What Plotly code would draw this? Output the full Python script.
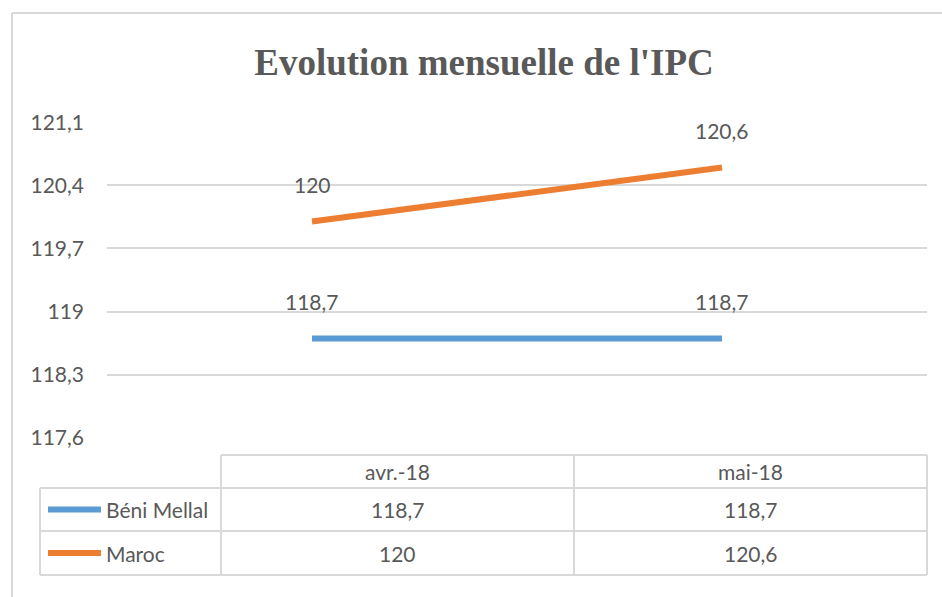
import plotly.graph_objects as go

# ---- data ----
categories = ["avr.-18", "mai-18"]
series_names = ["Béni Mellal", "Maroc"]
beni_mellal = [118.7, 118.7]
maroc = [120.0, 120.6]
series_values = [beni_mellal, maroc]
series_colors = ["#5B9BD5", "#ED7D31"]
y_ticks = [117.6, 118.3, 119.0, 119.7, 120.4, 121.1]
y_tick_labels = ["117,6", "118,3", "119", "119,7", "120,4", "121,1"]
title_text = "Evolution mensuelle de l'IPC"


def fr(v):
    s = ("%.1f" % v).rstrip("0").rstrip(".")
    return s.replace(".", ",")


W, H = 942, 597
L, R, T, B = 107, 15, 122, 159
PW = W - L - R
PH = H - T - B
TXT = "#595959"
GRID = "#D9D9D9"
FONT = "Lato, Carlito, Calibri, sans-serif"


def px_x(p):
    return (p - L) / PW


def px_y(p):
    return (H - B - p) / PH


fig = go.Figure()
for name, vals, col in zip(series_names, series_values, series_colors):
    fig.add_trace(go.Scatter(
        x=categories, y=vals, mode="lines", name=name,
        line=dict(color=col, width=6), showlegend=False,
    ))

annotations = []
# data labels
for vals in series_values:
    for c, v in zip(categories, vals):
        annotations.append(dict(
            x=c, y=v, xref="x", yref="y", text=fr(v), showarrow=False,
            xanchor="center", yanchor="middle",
            yshift=37, font=dict(family=FONT, size=21, color=TXT),
        ))

shapes = []
# outer chart border (top + left)
shapes.append(dict(type="line", xref="paper", yref="paper",
                   x0=px_x(12), x1=px_x(942), y0=px_y(13), y1=px_y(13),
                   line=dict(color="#D9D9D9", width=2)))
shapes.append(dict(type="line", xref="paper", yref="paper",
                   x0=px_x(12), x1=px_x(12), y0=px_y(13), y1=px_y(597),
                   line=dict(color="#D9D9D9", width=2)))

# data table
col_x = [40, 221, 574, 927]
row_y = [455, 488, 531, 575]
tline = dict(color="#D9D9D9", width=2)
# horizontal lines
shapes.append(dict(type="line", xref="paper", yref="paper",
                   x0=px_x(col_x[1]), x1=px_x(col_x[3]), y0=px_y(row_y[0]), y1=px_y(row_y[0]), line=tline))
for ry in row_y[1:]:
    shapes.append(dict(type="line", xref="paper", yref="paper",
                       x0=px_x(col_x[0]), x1=px_x(col_x[3]), y0=px_y(ry), y1=px_y(ry), line=tline))
# vertical lines
shapes.append(dict(type="line", xref="paper", yref="paper",
                   x0=px_x(col_x[0]), x1=px_x(col_x[0]), y0=px_y(row_y[1]), y1=px_y(row_y[3]), line=tline))
for cx in col_x[1:]:
    shapes.append(dict(type="line", xref="paper", yref="paper",
                       x0=px_x(cx), x1=px_x(cx), y0=px_y(row_y[0]), y1=px_y(row_y[3]), line=tline))

tfont = dict(family=FONT, size=21, color=TXT)
# header
for i, c in enumerate(categories):
    cxm = (col_x[i + 1] + col_x[i + 2]) / 2
    annotations.append(dict(x=px_x(cxm), y=px_y((row_y[0] + row_y[1]) / 2),
                            xref="paper", yref="paper", text=c, showarrow=False,
                            xanchor="center", yanchor="middle", font=tfont))
# rows
for r, (name, vals, col) in enumerate(zip(series_names, series_values, series_colors)):
    cy = (row_y[r + 1] + row_y[r + 2]) / 2
    shapes.append(dict(type="line", xref="paper", yref="paper",
                       x0=px_x(48), x1=px_x(101), y0=px_y(cy), y1=px_y(cy),
                       line=dict(color=col, width=6)))
    annotations.append(dict(x=px_x(104), y=px_y(cy), xref="paper", yref="paper",
                            text=name, showarrow=False, xanchor="left",
                            yanchor="middle", font=tfont))
    for i, v in enumerate(vals):
        cxm = (col_x[i + 1] + col_x[i + 2]) / 2
        annotations.append(dict(x=px_x(cxm), y=px_y(cy), xref="paper", yref="paper",
                                text=fr(v), showarrow=False, xanchor="center",
                                yanchor="middle", font=tfont))

fig.update_layout(
    width=W, height=H,
    margin=dict(l=L, r=R, t=T, b=B),
    paper_bgcolor="white", plot_bgcolor="white",
    title=dict(text=title_text, x=484 / W, xanchor="center", y=1 - 62 / H,
               yanchor="middle", xref="container", yref="container",
               font=dict(family="Liberation Serif, Times New Roman, serif",
                         size=37, color=TXT, weight="bold")),
    xaxis=dict(type="category", range=[-0.5, 1.5], showticklabels=False,
               showgrid=False, zeroline=False, showline=False, ticks=""),
    yaxis=dict(range=[117.595, 121.105], tickvals=y_ticks, ticktext=y_tick_labels,
               showgrid=True, gridcolor=GRID, gridwidth=2, zeroline=False,
               showline=False, ticks="", ticklabelstandoff=22,
               tickfont=dict(family=FONT, size=21, color=TXT)),
    shapes=shapes, annotations=annotations,
)

fig.write_html("out.html", config={"displayModeBar": False},
               post_script="document.body.style.margin='0';document.body.style.overflow='hidden';")
